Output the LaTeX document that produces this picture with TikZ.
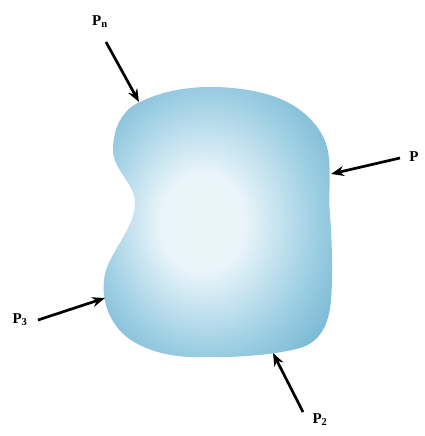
\documentclass[tikz,border=0pt]{standalone}
\usepackage{fontspec}
\setmainfont{Liberation Serif}
\usetikzlibrary{arrows.meta}
\definecolor{blobedge}{RGB}{108,176,206}
\definecolor{blobmid}{RGB}{160,208,228}
\definecolor{blobcen}{RGB}{234,245,250}
\pgfdeclareradialshading{blobshade}{\pgfpoint{-4bp}{0bp}}{
  color(0bp)=(blobcen); color(9bp)=(blobcen); color(23bp)=(blobmid);
  color(35bp)=(blobedge); color(50bp)=(blobedge)}
\tikzset{
  force/.style={line width=2.7pt,-{Stealth[length=13pt,width=10pt]}},
  lbl/.style={font=\bfseries\fontsize{15}{15}\selectfont,inner sep=1pt}
}
\begin{document}
\begin{tikzpicture}[x=1pt,y=-1pt]
\useasboundingbox (0,0) rectangle (425,436);
\shade[shading=blobshade]
  (140,102) .. controls (160,92) and (185,87) .. (210,87)
  .. controls (240,87) and (265,92) .. (283,100)
  .. controls (305,110) and (322,128) .. (327,147)
  .. controls (332,165) and (328,195) .. (330,215)
  .. controls (332,240) and (333,275) .. (331,300)
  .. controls (329,325) and (320,342) .. (300,348)
  .. controls (270,356) and (230,358) .. (190,357)
  .. controls (160,356) and (130,345) .. (117,327)
  .. controls (106,313) and (102,295) .. (104,280)
  .. controls (106,255) and (135,230) .. (135,203)
  .. controls (135,183) and (113,170) .. (113,150)
  .. controls (113,125) and (125,108) .. (140,102) -- cycle;
\node[lbl] (pn) at (100,22) {P$_{\mathbf{n}}$};
\node[lbl] (p1) at (414,157) {P};
\node[lbl] (p3) at (20,320) {P$_{\mathbf{3}}$};
\node[lbl] (p2) at (320,420) {P$_{\mathbf{2}}$};
\coordinate (tn) at (139,102);
\coordinate (t1) at (331,174);
\coordinate (t3) at (105,298);
\coordinate (t2) at (273,353);
\draw[force] (106,42) -- (tn);
\draw[force] (400,158) -- (t1);
\draw[force] (38,320) -- (t3);
\draw[force] (303,412) -- (t2);
\end{tikzpicture}
\end{document}
